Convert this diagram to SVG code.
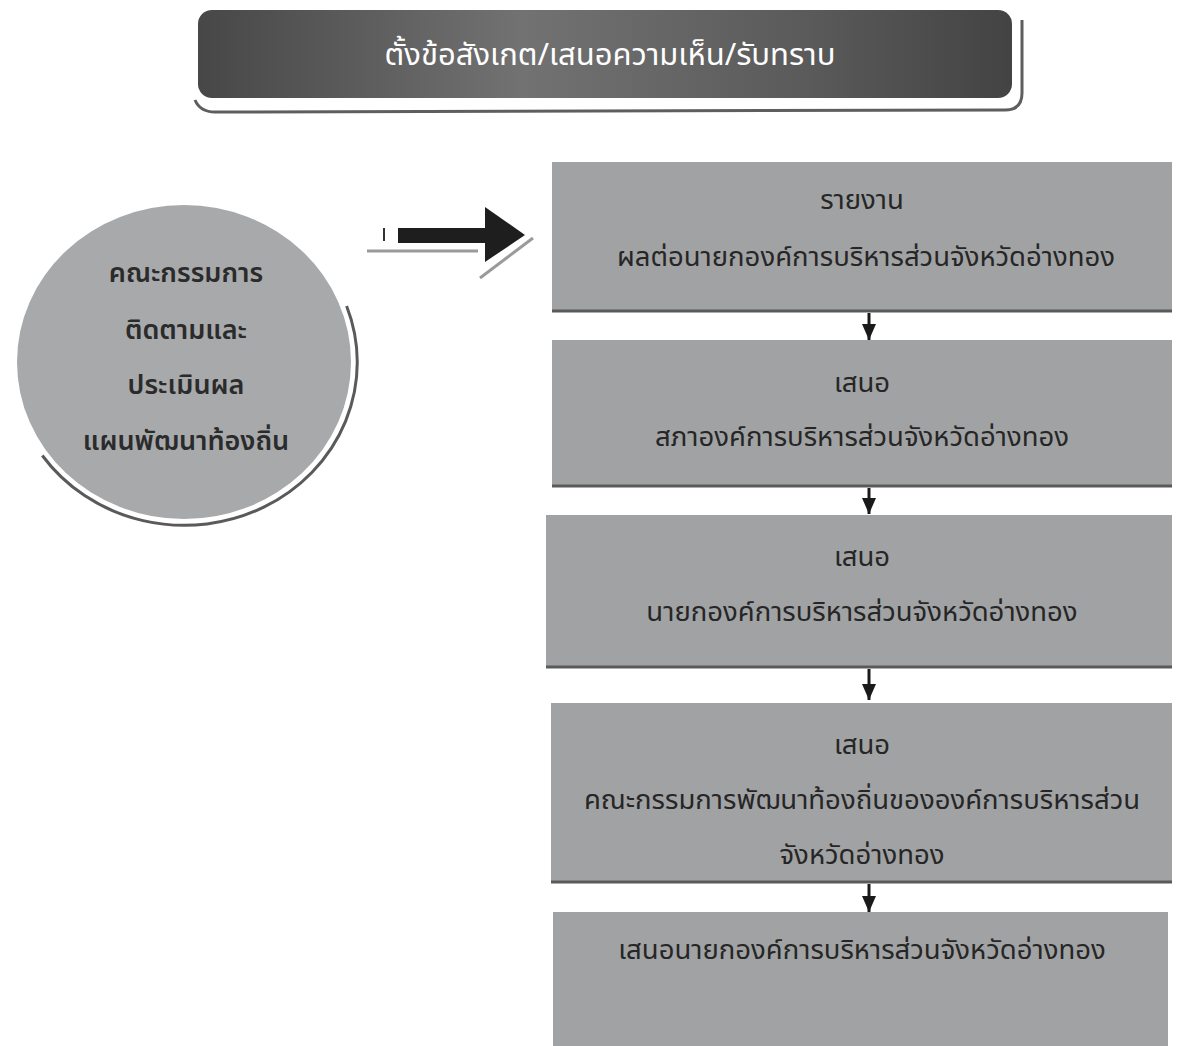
<svg xmlns="http://www.w3.org/2000/svg" width="1180" height="1046" viewBox="0 0 1180 1046">
<style>
.t{font-family:"Noto Sans Thai","Noto Sans","DejaVu Sans",sans-serif;text-anchor:middle;fill:#262626;font-size:27.5px}
.w{fill:#ffffff;font-size:31px}
.c{font-size:27px;font-weight:600;fill:#2b2b2b}
.box{fill:#a1a2a3}
.edge{stroke:#5a5a5a;stroke-width:3;fill:none}
.conn{stroke:#1a1a1a;stroke-width:3;fill:none}
</style>
<defs>
<linearGradient id="bg" x1="0" y1="0" x2="1" y2="0">
<stop offset="0" stop-color="#474747"/>
<stop offset="0.4" stop-color="#727272"/>
<stop offset="0.75" stop-color="#5a5a5a"/>
<stop offset="1" stop-color="#434343"/>
</linearGradient>
<marker id="ah" markerUnits="userSpaceOnUse" viewBox="0 0 16 14" markerWidth="16" markerHeight="14" refX="16" refY="7" orient="auto">
<path d="M0,0 L16,7 L0,14 z" fill="#1a1a1a"/>
</marker>
</defs>
<rect width="1180" height="1046" fill="#ffffff"/>

<g id="banner">
<path d="M195,100 Q200,112 215,112 L1005,110 Q1022,110 1022,93 L1022,20" fill="none" stroke="#5e5e5e" stroke-width="3"/>
<rect x="198" y="10" width="814" height="88" rx="14" fill="url(#bg)"/>
<text class="t w" x="610" y="65">ตั้งข้อสังเกต/เสนอความเห็น/รับทราบ</text>
</g>

<g id="committee">
<path d="M346.6,306 A173,163 0 0 1 42.3,455.5" fill="none" stroke="#5a5a5a" stroke-width="3"/>
<ellipse cx="184" cy="362" rx="167" ry="157" fill="#a8a9ab"/>
<text class="t c" x="186" y="282">คณะกรรมการ</text>
<text class="t c" x="186" y="339">ติดตามและ</text>
<text class="t c" x="186" y="394">ประเมินผล</text>
<text class="t c" x="186" y="450">แผนพัฒนาท้องถิ่น</text>
</g>

<g id="bigarrow">
<line x1="384" y1="228" x2="384" y2="241" stroke="#333" stroke-width="2"/>
<line x1="367" y1="251" x2="478" y2="251" stroke="#9a9a9a" stroke-width="3"/>
<line x1="480" y1="278" x2="533" y2="238" stroke="#9a9a9a" stroke-width="3"/>
<rect x="398" y="228" width="90" height="15" fill="#1e1e1e"/>
<polygon points="485,207 525,235 485,262" fill="#1e1e1e"/>
</g>

<g id="box1">
<rect class="box" x="552" y="162" width="620" height="150"/>
<line class="edge" x1="552" y1="311" x2="1172" y2="311"/>
<text class="t" x="862" y="209">รายงาน</text>
<text class="t" x="866" y="266">ผลต่อนายกองค์การบริหารส่วนจังหวัดอ่างทอง</text>
</g>

<g id="box2">
<rect class="box" x="552" y="340" width="620" height="147"/>
<line class="edge" x1="552" y1="486" x2="1172" y2="486"/>
<text class="t" x="862" y="392">เสนอ</text>
<text class="t" x="862" y="446">สภาองค์การบริหารส่วนจังหวัดอ่างทอง</text>
</g>

<g id="box3">
<rect class="box" x="546" y="515" width="626" height="153"/>
<line class="edge" x1="546" y1="667" x2="1172" y2="667"/>
<text class="t" x="862" y="566">เสนอ</text>
<text class="t" x="862" y="621">นายกองค์การบริหารส่วนจังหวัดอ่างทอง</text>
</g>

<g id="box4">
<rect class="box" x="551" y="703" width="621" height="180"/>
<line class="edge" x1="551" y1="882" x2="1172" y2="882"/>
<text class="t" x="862" y="754">เสนอ</text>
<text class="t" x="862" y="809">คณะกรรมการพัฒนาท้องถิ่นขององค์การบริหารส่วน</text>
<text class="t" x="862" y="864">จังหวัดอ่างทอง</text>
</g>

<g id="box5">
<rect class="box" x="553" y="912" width="615" height="134"/>
<text class="t" x="862" y="959">เสนอนายกองค์การบริหารส่วนจังหวัดอ่างทอง</text>
</g>

<g id="connectors">
<line class="conn" x1="869" y1="313" x2="869" y2="340" marker-end="url(#ah)"/>
<line class="conn" x1="869" y1="488" x2="869" y2="514" marker-end="url(#ah)"/>
<line class="conn" x1="869" y1="669" x2="869" y2="700" marker-end="url(#ah)"/>
<line class="conn" x1="869" y1="884" x2="869" y2="912" marker-end="url(#ah)"/>
</g>
</svg>
